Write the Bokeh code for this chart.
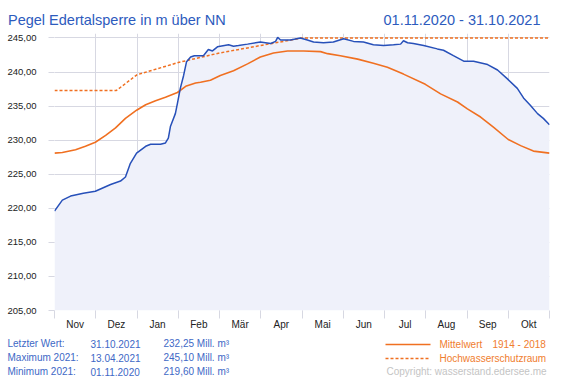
from bokeh.plotting import figure
from bokeh.models import Range1d, FixedTicker, ColumnDataSource
from bokeh.embed import file_html
from bokeh.resources import INLINE
from bokeh.core.properties import value

# ---------------- data (x in months since 01.11.2020) ----------------
month_labels = ["Nov", "Dez", "Jan", "Feb", "Mär", "Apr", "Mai", "Jun", "Jul", "Aug", "Sep", "Okt"]
y_ticks = [205, 210, 215, 220, 225, 230, 235, 240, 245]

level_x = [0.00, 0.19, 0.39, 0.70, 0.99, 1.36, 1.60, 1.72, 1.84, 1.99, 2.21, 2.33, 2.57, 2.69,
           2.76, 2.81, 2.93, 2.98, 3.05, 3.13, 3.20, 3.30, 3.39, 3.61, 3.73, 3.83, 3.95, 4.22,
           4.34, 4.46, 4.68, 4.99, 5.24, 5.36, 5.41, 5.48, 5.72, 5.96, 6.13, 6.28, 6.52, 6.76,
           7.01, 7.25, 7.49, 7.73, 7.98, 8.22, 8.39, 8.46, 8.56, 8.70, 8.95, 9.28, 9.43, 9.67,
           9.92, 10.16, 10.50, 10.74, 10.98, 11.22, 11.37, 11.54, 11.71, 11.85, 12.00]
level_y = [219.6, 221.2, 221.8, 222.2, 222.5, 223.5, 224.0, 224.6, 226.6, 228.1, 229.1, 229.4, 229.4, 229.6,
           230.3, 232.0, 233.9, 235.4, 237.6, 239.5, 241.5, 242.2, 242.4, 242.4, 243.3, 243.1, 243.7, 244.0,
           243.8, 243.9, 244.1, 244.4, 244.2, 244.5, 245.1, 244.7, 244.7, 245.0, 244.7, 244.4, 244.3, 244.4,
           244.9, 244.5, 244.4, 244.0, 243.9, 244.0, 244.1, 244.6, 244.3, 244.2, 243.9, 243.4, 243.2, 242.4,
           241.6, 241.6, 241.1, 240.3, 239.0, 237.6, 236.2, 235.1, 233.9, 233.2, 232.25]

mean_x = [0.00, 0.19, 0.51, 0.75, 0.99, 1.24, 1.48, 1.72, 1.99, 2.21, 2.45, 2.69, 2.98, 3.18, 3.42,
          3.54, 3.78, 4.02, 4.34, 4.68, 4.99, 5.31, 5.65, 6.04, 6.45, 6.62, 6.93, 7.35, 7.73, 8.07,
          8.46, 8.99, 9.36, 9.77, 10.01, 10.33, 10.64, 11.00, 11.30, 11.61, 12.00]
mean_y = [228.1, 228.2, 228.6, 229.1, 229.7, 230.7, 231.8, 233.2, 234.4, 235.2, 235.8, 236.3, 237.0, 237.9, 238.4,
          238.5, 238.8, 239.5, 240.2, 241.2, 242.2, 242.8, 243.1, 243.1, 243.0, 242.7, 242.4, 241.9, 241.3, 240.7,
          239.7, 238.2, 236.8, 235.6, 234.6, 233.4, 231.9, 230.1, 229.2, 228.4, 228.1]

flood_x = [0.0, 1.5, 2.0, 2.5, 3.0, 4.0, 5.0, 6.0, 12.0]
flood_y = [237.3, 237.3, 239.6, 240.5, 241.4, 242.8, 243.9, 245.0, 245.0]

info_rows = [("Letzter Wert:", "31.10.2021", "232,25 Mill. m³"),
             ("Maximum 2021:", "13.04.2021", "245,10 Mill. m³"),
             ("Minimum 2021:", "01.11.2020", "219,60 Mill. m³")]

# ---------------- styles ----------------
FONT = "Liberation Sans"
BLUE_LINE = "#2750b9"
FILL = "#eff1fa"
ORANGE = "#f07021"
ORANGE_TXT = "#f07d2e"
GRID = "#d7d8e2"
TITLE_BLUE = "#2d5bbd"
TEXT_BLUE = "#4068c6"
W = 580

# ---------------- header (page-pixel coordinates) ----------------
head = figure(width=W, height=33, x_range=Range1d(0, W), y_range=Range1d(33, 0),
              x_axis_type=None, y_axis_type=None,
              output_backend="svg", toolbar_location=None, min_border=0,
              outline_line_color=None)
head.text(x=[7.5], y=[19.5], text=["Pegel Edertalsperre in m über NN"],
          text_font=value(FONT), text_font_size="14.5px", text_color=TITLE_BLUE,
          text_baseline="alphabetic", text_align="left")
head.text(x=[540], y=[19.5], text=["01.11.2020 - 31.10.2021"],
          text_font=value(FONT), text_font_size="14.5px", text_color=TITLE_BLUE,
          text_baseline="alphabetic", text_align="right")

# ---------------- main chart ----------------
per_px = 5.0 / 34.1
p = figure(width=W, height=301, x_range=Range1d(0, 12),
           y_range=Range1d(205, 245 + 4.5 * per_px),
           output_backend="svg", toolbar_location=None,
           min_border_left=54, min_border_right=31, min_border_top=0, min_border_bottom=24,
           outline_line_color=None)

src = ColumnDataSource(dict(x=level_x, y=level_y, base=[205] * len(level_x)))
p.varea(x="x", y1="base", y2="y", source=src, fill_color=FILL)

p.xgrid.ticker = FixedTicker(ticks=list(range(13)))
p.ygrid.ticker = FixedTicker(ticks=y_ticks)
p.xgrid.grid_line_color = GRID
p.ygrid.grid_line_color = GRID

p.line(flood_x, flood_y, line_color=ORANGE, line_width=1.5, line_dash="3 2")
p.line(mean_x, mean_y, line_color=ORANGE, line_width=1.6)
p.line("x", "y", source=src, line_color=BLUE_LINE, line_width=1.5)

xa = p.xaxis[0]
xa.ticker = FixedTicker(ticks=[i + 0.5 for i in range(12)], minor_ticks=list(range(13)))
xa.major_label_overrides = {i + 0.5: m for i, m in enumerate(month_labels)}
xa.major_tick_out = 0
xa.major_tick_in = 0
xa.minor_tick_out = 8
xa.minor_tick_in = 0
xa.minor_tick_line_color = GRID
xa.axis_line_color = None
xa.major_label_standoff = 0
xa.major_label_text_font = FONT
xa.major_label_text_font_size = "10px"
xa.major_label_text_color = "#222222"

ya = p.yaxis[0]
ya.ticker = FixedTicker(ticks=y_ticks, minor_ticks=[])
ya.major_label_overrides = {v: f"{v},00" for v in y_ticks}
ya.major_tick_out = 6
ya.major_tick_in = 0
ya.major_tick_line_color = GRID
ya.minor_tick_line_color = None
ya.axis_line_color = None
ya.major_label_standoff = 12
ya.major_label_text_font = FONT
ya.major_label_text_font_size = "9.5px"
ya.major_label_text_color = "#222222"

# ---------------- footer (page-pixel coordinates) ----------------
foot = figure(width=W, height=51, x_range=Range1d(0, W), y_range=Range1d(385, 334),
              x_axis_type=None, y_axis_type=None,
              output_backend="svg", toolbar_location=None, min_border=0,
              outline_line_color=None)
row_y = [343.3, 357.0, 371.0]
for (lab, date, val), yy in zip(info_rows, row_y):
    for xx, t in ((7, lab), (90, date), (163, val)):
        foot.text(x=[xx], y=[yy], text=[t], text_font=value(FONT), text_font_size="10px",
                  text_color=TEXT_BLUE, text_baseline="middle", text_align="left")

foot.line([385, 430], [344, 344], line_color=ORANGE, line_width=1.6)
foot.line([385, 430], [358, 358], line_color=ORANGE, line_width=1.5, line_dash="3 2")
foot.text(x=[439], y=[343.5], text=["Mittelwert"], text_font=value(FONT), text_font_size="10px",
          text_color=ORANGE_TXT, text_baseline="middle")
foot.text(x=[492], y=[343.5], text=["1914 - 2018"], text_font=value(FONT), text_font_size="10px",
          text_color=ORANGE_TXT, text_baseline="middle")
foot.text(x=[439], y=[357.5], text=["Hochwasserschutzraum"], text_font=value(FONT), text_font_size="10px",
          text_color=ORANGE_TXT, text_baseline="middle")
foot.text(x=[386], y=[371], text=["Copyright: wasserstand.edersee.me"], text_font=value(FONT),
          text_font_size="10px", text_color="#c4c4c4", text_baseline="middle")

# separate roots so the three canvases are not frame-aligned with each other
open("out.html", "w").write(file_html((head, p, foot), INLINE))
